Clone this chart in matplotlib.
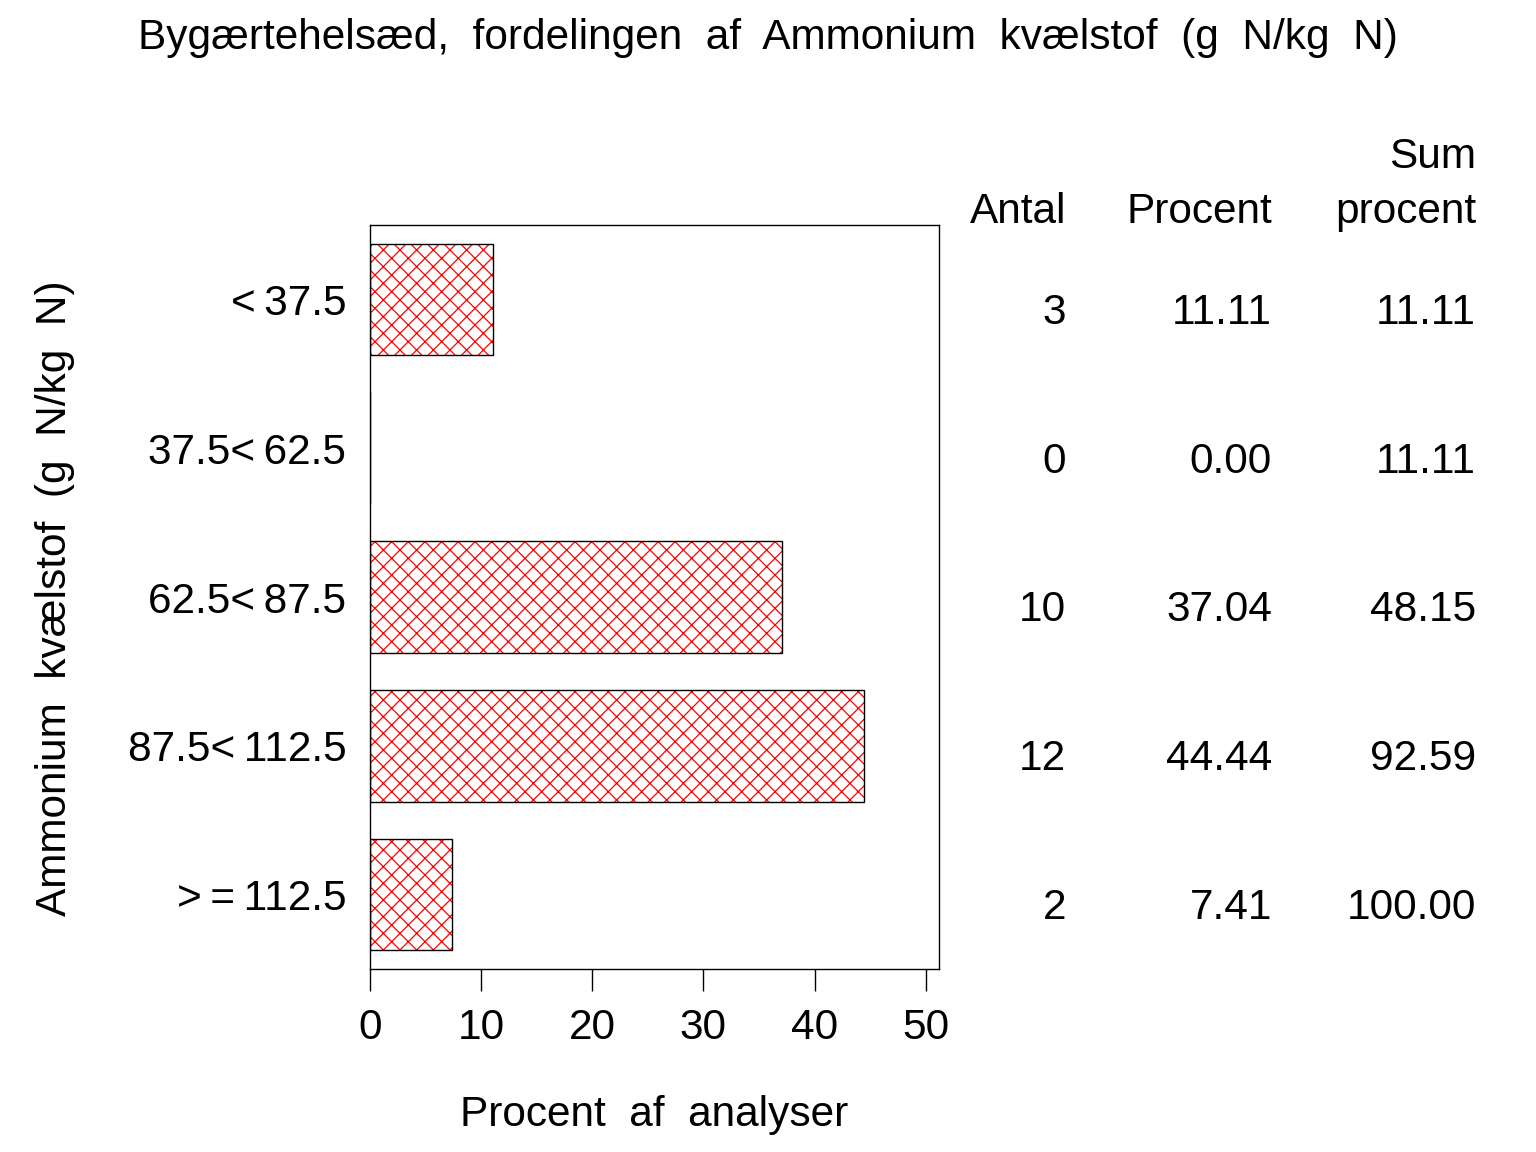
import numpy as np
import matplotlib
matplotlib.use("Agg")
import matplotlib.pyplot as plt
from matplotlib.transforms import blended_transform_factory

# data
categories = ["<\u200937.5", "37.5<\u200962.5", "62.5<\u200987.5", "87.5<\u2009112.5", ">\u2009=\u2009112.5"]
antal = [3, 0, 10, 12, 2]
procent = [11.11, 0.00, 37.04, 44.44, 7.41]
sum_procent = [11.11, 11.11, 48.15, 92.59, 100.00]
xticks = [0, 10, 20, 30, 40, 50]

FS = 30.5
plt.rcParams["font.family"] = ["Liberation Sans", "DejaVu Sans"]
plt.rcParams["hatch.linewidth"] = 0.9

fig = plt.figure(figsize=(15.36, 11.52), dpi=100)
ax = fig.add_axes([370 / 1536, 1 - 969 / 1152, 569 / 1536, 744 / 1152])

y = np.arange(len(categories))
# red cross hatch, then black outline on top
ax.barh(y, procent, height=0.75, color="white", edgecolor="red",
        linewidth=0, hatch="xx")
ax.barh(y, procent, height=0.75, fill=False, edgecolor="black", linewidth=1.0)

ax.set_ylim(len(categories) - 0.5, -0.5)
ax.set_xlim(0, 51.2)
ax.set_xticks(xticks)
ax.set_xticklabels([str(t) for t in xticks])
ax.set_yticks(y)
ax.set_yticklabels(categories)
ax.tick_params(axis="y", length=0, pad=17, labelsize=FS)
ax.tick_params(axis="x", length=16, width=1, pad=12, labelsize=FS)
for s in ax.spines.values():
    s.set_linewidth(1.0)

ax.set_xlabel("Procent  af  analyser", fontsize=FS, labelpad=34)
fig.text(55 / 1536, 1 - 598 / 1152, "Ammonium  kvælstof  (g  N/kg  N)",
         rotation=90, ha="center", va="center", fontsize=FS)
fig.text(768 / 1536, 1 - 38 / 1152,
         "Bygærtehelsæd,  fordelingen  af  Ammonium  kvælstof  (g  N/kg  N)",
         ha="center", va="center", fontsize=FS)

# table to the right of the bars
col_x = [1066, 1272, 1476]
fig.text(col_x[0] / 1536, 1 - 212 / 1152, "Antal", ha="right", va="center", fontsize=FS)
fig.text(col_x[1] / 1536, 1 - 212 / 1152, "Procent", ha="right", va="center", fontsize=FS)
fig.text(col_x[2] / 1536, 1 - 212 / 1152, "procent", ha="right", va="center", fontsize=FS)
fig.text(col_x[2] / 1536, 1 - 157 / 1152, "Sum", ha="right", va="center", fontsize=FS)
tr = blended_transform_factory(ax.transAxes, ax.transData)
for i in range(len(categories)):
    vals = [f"{antal[i]}", f"{procent[i]:.2f}", f"{sum_procent[i]:.2f}"]
    for cx, val in zip(col_x, vals):
        ax.text((cx - 370) / 569, y[i] + 0.09, val, transform=tr,
                ha="right", va="center", fontsize=FS, clip_on=False)

fig.savefig("out.png", dpi=100)
